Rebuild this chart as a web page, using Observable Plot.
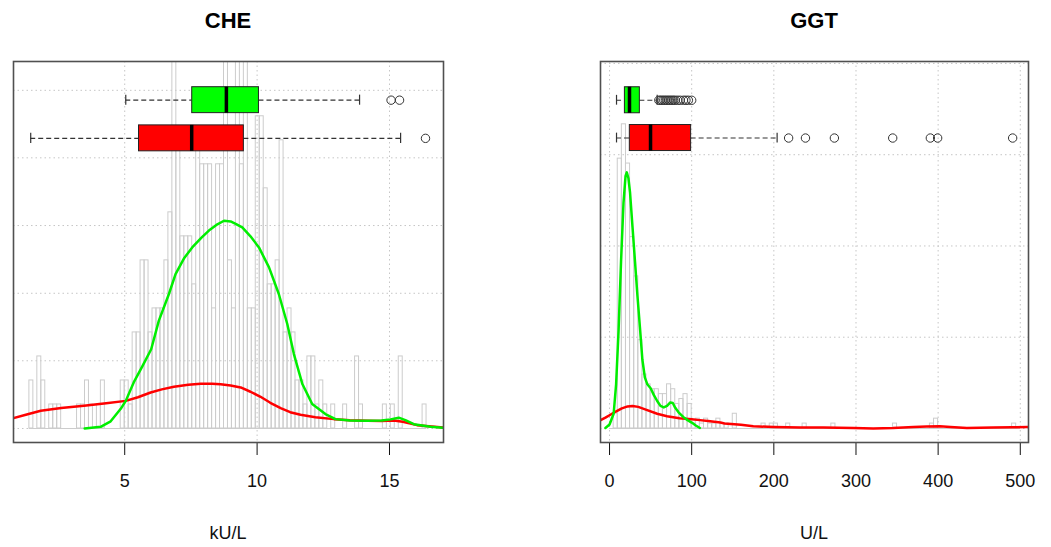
<!DOCTYPE html>
<html><head><meta charset="utf-8">
<script src="https://cdn.jsdelivr.net/npm/d3@7"></script>
<script src="https://cdn.jsdelivr.net/npm/@observablehq/plot@0.6"></script>
<style>
body{margin:0;background:#fff;font-family:"Liberation Sans",Arial,sans-serif;}
#wrap{position:relative;width:1051px;height:547px;overflow:hidden;}
.panel{position:absolute;top:0;}
.title{position:absolute;top:8px;width:300px;text-align:center;font-weight:bold;font-size:22px;color:#000;}
.xlab{position:absolute;top:523px;width:300px;text-align:center;font-size:18px;color:#111;}
</style></head><body><div id="wrap"></div>
<script>
// ---------------- CHE data ----------------
const cheBreakStart = 1.4, cheBreakStep = 0.15;
const cheCounts = [2,0,3,2,0,1,1,1,0,0, 0,0,1,1,2,1,0,1,2,0, 0,0,0,2,2,1,4,4,7,7,
  4,5,5,5,7,9,17,12,8,8, 8,6,12,11,11,11,5,11,11,17, 7,5,16,11,16,5,5,13,13,10,
  6,6,7,12,4,5,4,2,2,1, 3,3,1,2,1,0,1,0,0,1, 0,0,3,1,0,0,0,0,0,1, 0,1,0,3,0,0,0,0,0,1];
const cheTicks = [5, 10, 15];
const cheGridY = [0, 2.82, 5.63, 8.45, 11.27, 14.08];
const cheGreenDens = [[3.49,0],[4.09,0.07],[4.47,0.3],[4.85,0.82],[5.04,1.15],[5.34,1.92],[5.67,2.6],[6.0,3.3],[6.29,4.49],[6.67,5.6],[6.92,6.43],[7.25,7.1],[7.55,7.54],[7.9,7.95],[8.18,8.24],[8.5,8.5],[8.75,8.65],[9.0,8.62],[9.19,8.52],[9.44,8.37],[9.75,8.0],[10.07,7.54],[10.45,6.71],[10.82,5.6],[11.14,4.35],[11.39,3.1],[11.71,1.85],[12.08,1.02],[12.58,0.6],[12.96,0.39],[13.5,0.33],[14.16,0.32],[14.7,0.33],[15.04,0.38],[15.35,0.45],[15.6,0.35],[15.92,0.18],[16.55,0.07],[17.05,0.03]];
const cheRedDens = [[0.7,0.4],[1.3,0.58],[1.83,0.74],[2.6,0.85],[3.46,0.95],[4.3,1.05],[5.04,1.15],[5.5,1.3],[5.98,1.5],[6.4,1.63],[6.86,1.74],[7.4,1.82],[7.87,1.86],[8.3,1.86],[8.62,1.84],[9.0,1.79],[9.38,1.71],[9.75,1.53],[10.13,1.32],[10.5,1.07],[10.89,0.85],[11.25,0.68],[11.64,0.57],[12.2,0.47],[12.9,0.39],[13.5,0.34],[14.16,0.32],[14.7,0.31],[15.16,0.33],[15.5,0.28],[16.04,0.14],[16.6,0.08],[17.1,0.03]];
const cheGreenBox = {min: 5.04, q1: 7.55, med: 8.84, q3: 10.07, max: 13.87};
const cheGreenOut = [15.06, 15.38];
const cheRedBox = {min: 1.45, q1: 5.54, med: 7.53, q3: 9.5, max: 15.42};
const cheRedOut = [16.36];

// ---------------- GGT data ----------------
const ggtBreakStart = 0, ggtBreakStep = 5;
const ggtCounts = [0,3,55,62,54,39,31,18,11,9, 8,8,7,7,9,8,5,6,7,5, 1,2,1,2,1,1,2,1,1,0,
  3,0,0,0,0,0,0,1,0,1, 1,0,0,1,0,0,0,1,0,0, 0,0,0,0,1,0,0,0,0,0, 0,0,0,0,0,0,0,0,0,1,
  0,0,0,0,0,0,0,0,1,2, 0,0,0,0,0,0,0,0,0,0, 0,0,0,0,0,0,0,0,1,0];
const ggtTicks = [0, 100, 200, 300, 400, 500];
const ggtGridY = [0, 18.6, 37.2, 55.8, 74.4];
const ggtGreenDens = [[-5,0.1],[0,0.8],[5,3],[8,9],[11,20],[14,34],[17,46],[19.5,51.5],[21,52.2],[23,51],[25,48],[28,41],[31,34],[34,27],[37,20.6],[40,14],[43,10.4],[46,9],[50,8.2],[54,6.8],[58,5.6],[62,4.6],[66,4.3],[70,4.6],[74,5.3],[77,5.2],[80,4.2],[84,3.3],[90,2.3],[95,1.7],[100,1.2],[105,0.6],[110,0.1]];
const ggtRedDens = [[-12,1.6],[-5,2.2],[0,2.7],[7,3.4],[15,4.1],[22,4.5],[28,4.6],[35,4.4],[45,3.8],[58,3.0],[70,2.5],[85,2.1],[100,1.9],[110,1.7],[120,1.5],[135,1.2],[140,1.0],[160,0.75],[175,0.45],[200,0.3],[232,0.2],[260,0.2],[297,0.08],[321,0.0],[345,0.1],[370,0.3],[386,0.4],[402,0.45],[415,0.3],[435,0.08],[467,0.2],[490,0.25],[512,0.28]];
const ggtGreenBox = {min: 8.5, q1: 18.7, med: 24.3, q3: 36.9, max: 58};
const ggtGreenOut = [60, 62, 64, 66, 68, 70, 72, 74, 76, 78, 80, 83, 86, 90, 93, 96, 100];
const ggtRedBox = {min: 8.5, q1: 24.7, med: 49.9, q3: 99.3, max: 204};
const ggtRedOut = [218, 238.5, 273.7, 344.7, 390.5, 399.4, 490.7];

const GREEN = "#00ee00", RED = "#ff0000";

function boxMarks(s, outs, y, half, cap, fill) {
  return [
    Plot.ruleY([s], {x1: "min", x2: "q1", y: () => y, stroke: "#333", strokeWidth: 1.1, strokeDasharray: "5,3"}),
    Plot.ruleY([s], {x1: "q3", x2: "max", y: () => y, stroke: "#333", strokeWidth: 1.1, strokeDasharray: "5,3"}),
    Plot.ruleX([s.min, s.max], {x: d => d, y1: y - cap, y2: y + cap, stroke: "#333", strokeWidth: 1.2}),
    Plot.rect([s], {x1: "q1", x2: "q3", y1: y - half, y2: y + half, fill: fill, stroke: "#222", strokeWidth: 1}),
    Plot.ruleX([s.med], {x: d => d, y1: y - half, y2: y + half, stroke: "#000", strokeWidth: 3.5}),
    Plot.dot(outs, {x: d => d, y: () => y, r: 4.2, stroke: "#333", strokeWidth: 1, fill: "none"})
  ];
}

function panel(cfg) {
  const bins = cfg.counts.map((c, i) => ({x0: cfg.start + cfg.step * i, x1: cfg.start + cfg.step * (i + 1), count: c}));
  const last = bins[bins.length - 1].x1;
  const p = Plot.plot({
    width: cfg.width, height: 547,
    marginTop: 61, marginBottom: 105, marginLeft: cfg.ml, marginRight: cfg.mr,
    x: {domain: cfg.xDomain, ticks: cfg.ticks, tickSize: 13, tickPadding: 19, label: null, tickFormat: d => String(d)},
    y: {domain: cfg.yDomain, axis: null},
    style: {fontFamily: "Liberation Sans, Arial, sans-serif", fontSize: "18px", background: "transparent", overflow: "visible", color: "#111"},
    marks: [
      Plot.ruleX(cfg.ticks, {stroke: "#c6c6c6", strokeDasharray: "1.5,3", strokeWidth: 1}),
      Plot.ruleY(cfg.gridY, {stroke: "#c6c6c6", strokeDasharray: "1.5,3", strokeWidth: 1}),
      Plot.rect(bins.filter(b => b.count > 0), {x1: "x0", x2: "x1", y1: 0, y2: "count", fill: "none", stroke: "#cccccc", strokeWidth: 1, clip: true}),
      Plot.ruleY([0], {x1: cfg.start, x2: last, stroke: "#cccccc", strokeWidth: 1, clip: true}),
      Plot.line(cfg.red, {x: d => d[0], y: d => d[1], stroke: RED, strokeWidth: 2.5, clip: true}),
      Plot.line(cfg.green, {x: d => d[0], y: d => d[1], stroke: GREEN, strokeWidth: 2.5, clip: true}),
      ...boxMarks(cfg.greenBox, cfg.greenOut, cfg.greenY, cfg.half, cfg.cap, "#00ff00"),
      ...boxMarks(cfg.redBox, cfg.redOut, cfg.redY, cfg.half, cfg.cap, "#ff0000"),
      Plot.frame({stroke: "#505050", strokeWidth: 1.6})
    ]
  });
  const d = document.createElement("div");
  d.className = "panel";
  d.style.left = cfg.left + "px";
  d.appendChild(p);
  document.getElementById("wrap").appendChild(d);
  const t = document.createElement("div");
  t.className = "title"; t.textContent = cfg.title;
  t.style.left = (cfg.center - 150) + "px";
  document.getElementById("wrap").appendChild(t);
  const l = document.createElement("div");
  l.className = "xlab"; l.textContent = cfg.xlabel;
  l.style.left = (cfg.center - 150) + "px";
  document.getElementById("wrap").appendChild(l);
}

panel({
  left: 0, width: 460, ml: 13, mr: 17, center: 228,
  title: "CHE", xlabel: "kU/L",
  xDomain: [0.8, 17.04], yDomain: [-0.583, 15.28],
  ticks: cheTicks, gridY: cheGridY,
  start: cheBreakStart, step: cheBreakStep, counts: cheCounts,
  green: cheGreenDens, red: cheRedDens,
  greenBox: cheGreenBox, greenOut: cheGreenOut, redBox: cheRedBox, redOut: cheRedOut,
  greenY: 13.67, redY: 12.08, half: 0.54, cap: 0.21
});
panel({
  left: 580, width: 471, ml: 20, mr: 23, center: 814,
  title: "GGT", xlabel: "U/L",
  xDomain: [-11, 510], yDomain: [-2.86, 74.8],
  ticks: ggtTicks, gridY: ggtGridY,
  start: ggtBreakStart, step: ggtBreakStep, counts: ggtCounts,
  green: ggtGreenDens, red: ggtRedDens,
  greenBox: ggtGreenBox, greenOut: ggtGreenOut, redBox: ggtRedBox, redOut: ggtRedOut,
  greenY: 66.9, redY: 59.2, half: 2.65, cap: 1.0
});
</script></body></html>
